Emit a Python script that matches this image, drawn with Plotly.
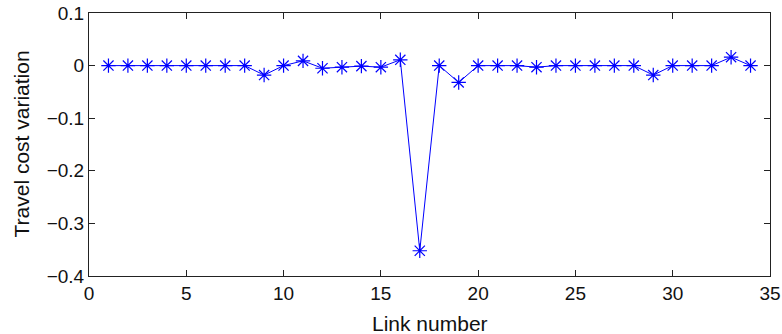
import plotly.graph_objects as go

links = list(range(1, 35))
variation = [0, 0, 0, 0, 0, 0, 0, 0, -0.018, 0,
             0.009, -0.005, -0.003, -0.001, -0.003, 0.011, -0.352, 0, -0.032, 0,
             0, 0, -0.003, 0, 0, 0, 0, 0, -0.018, 0,
             0, 0, 0.016, 0]

x_ticks = [0, 5, 10, 15, 20, 25, 30, 35]
y_ticks = [-0.4, -0.3, -0.2, -0.1, 0, 0.1]
y_tick_text = ["\u22120.4", "\u22120.3", "\u22120.2", "\u22120.1", "0", "0.1"]

x_title = "Link number"
y_title = "Travel cost variation"

fig = go.Figure(go.Scatter(
    x=links, y=variation, mode="lines+markers",
    line=dict(color="#0000ff", width=1),
    marker=dict(symbol="asterisk-open", size=12, color="#0000ff",
                line=dict(color="#0000ff", width=1.2)),
))

axis_common = dict(showgrid=False, zeroline=False, showline=True, mirror="ticks",
                   linecolor="#222", linewidth=1, ticks="inside", ticklen=6,
                   tickcolor="#222", automargin=False,
                   tickfont=dict(family="Liberation Sans, Arial", size=19, color="#111"))

fig.update_layout(
    width=782, height=334,
    margin=dict(l=89, r=12, t=13, b=58),
    plot_bgcolor="white", paper_bgcolor="white",
    showlegend=False,
    font=dict(family="Liberation Sans, Arial", color="#111"),
    xaxis=dict(range=[0, 35], tickvals=x_ticks, **axis_common),
    yaxis=dict(range=[-0.4, 0.1], tickvals=y_ticks, ticktext=y_tick_text, **axis_common),
    annotations=[
        dict(text=x_title, xref="paper", yref="paper", x=0.5, y=0,
             xanchor="center", yanchor="middle", yshift=-47, showarrow=False,
             font=dict(size=21, family="Liberation Sans, Arial", color="#111")),
        dict(text=y_title, xref="paper", yref="paper", x=0, y=0.5, textangle=-90,
             xanchor="center", yanchor="middle", xshift=-68, showarrow=False,
             font=dict(size=21, family="Liberation Sans, Arial", color="#111")),
    ],
)

fig.write_html("out.html")
